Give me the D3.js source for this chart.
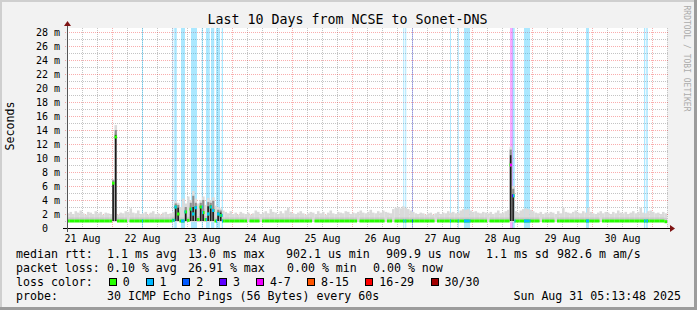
<!DOCTYPE html>
<html lang="en">
<head>
<meta charset="UTF-8">
<title>Last 10 Days from NCSE to Sonet-DNS</title>
<script src="https://cdn.jsdelivr.net/npm/d3@7"></script>
<style>
  html, body { margin: 0; padding: 0; background: #f2f2f2; overflow: hidden; }
  svg { display: block; }
  text { font-family: "DejaVu Sans Mono", monospace; }
</style>
</head>
<body>
<script>
// ---- data ----
// one value per hour, first hour = 20 Aug 18:00
const startTime = Date.UTC(2025, 7, 20, 18, 0, 0);
const yMax = 28.57; // ms, top of the plot

// median rtt in ms, null = no data
const median = [
  1.0,1.0,1.0,1.0,1.0,1.0, 1.0,1.0,1.0,1.0,1.0,1.0, 1.0,1.0,1.0,1.0,1.0,1.0, 6.4,13.0,1.0,1.0,1.0,1.0,
  null,1.0,1.0,1.0,1.0,1.0, 1.0,1.0,1.0,1.0,1.0,1.0, 1.0,1.0,1.0,1.0,1.0,1.0, 1.1,3.0,2.0,1.0,1.0,2.3,
  1.1,2.7,2.0,2.9,1.2,3.0, 2.2,1.2,2.0,3.0,2.5,1.0, 2.0,1.8,1.0,1.0,1.0,1.0, 1.0,1.0,1.0,1.0,1.0,1.0,
  null,1.0,1.0,1.0,1.0,null, 1.0,1.0,1.0,1.0,1.0,1.0, 1.0,1.0,1.0,1.0,1.0,1.0, 1.0,1.0,1.0,1.0,1.0,1.0,
  1.0,1.0,null,1.0,1.0,1.0, 1.0,1.0,1.0,1.0,1.0,1.0, 1.0,1.0,1.0,1.0,1.0,1.0, 1.0,1.0,null,1.0,1.0,1.0,
  1.0,1.0,1.0,1.0,1.0,1.0, 1.0,null,1.0,1.0,null,1.0, 1.0,1.0,1.0,1.0,1.0,1.0, 1.0,1.0,1.0,1.0,1.0,1.0,
  1.0,1.0,1.0,null,1.0,1.0, 1.0,1.0,1.0,1.0,1.0,1.0, 1.0,1.0,1.0,1.0,1.0,1.0, 1.0,1.0,1.0,1.0,1.0,1.0,
  null,1.0,1.0,1.0,1.0,1.0, 1.0,1.0,1.0,9.0,4.6,1.0, 1.0,1.0,1.0,1.0,1.0,1.0, 1.0,1.0,1.0,null,1.0,1.0,
  1.0,1.0,1.0,null,1.0,1.0, 1.0,1.0,1.0,1.0,1.0,1.0, 1.0,1.0,1.0,1.0,1.0,1.0, 1.0,1.0,1.0,null,1.0,1.0,
  1.0,1.0,1.0,1.0,1.0,1.0, 1.0,1.0,1.0,1.0,1.0,1.0, 1.0,1.0,1.0,1.0,1.0,1.0, 1.0,1.0,1.0,1.0,1.0,0.9
];

// top of the smoke (slowest pings) per hour, ms
const smokeHigh = [
  2.1,2.3,2.0,2.4,2.2,2.5, 2.1,1.9,2.3,2.2,2.0,2.4, 2.1,2.3,1.9,2.2,2.1,2.0, 7.0,14.7,1.9,2.2,2.1,2.4,
  2.3,2.8,2.2,2.1,2.5,2.0, 2.1,2.3,1.9,2.2,2.4,2.0, 2.1,1.9,2.2,2.3,2.0,2.1, 2.3,3.8,3.6,3.0,4.2,3.5,
  4.5,4.0,5.3,4.2,3.5,4.0, 4.5,3.3,4.3,4.0,4.4,3.2, 3.0,2.8,2.5,2.3,2.1,2.4, 2.0,2.2,1.9,2.3,2.1,2.0,
  2.2,1.9,2.1,2.5,2.3,2.0, 2.2,2.4,2.1,2.7,2.3,2.2, 2.0,2.4,2.1,2.5,2.9,2.3, 2.1,2.0,2.2,2.4,2.1,1.9,
  2.1,2.3,2.2,2.0,2.4,2.1, 2.3,1.9,2.2,2.5,2.1,2.0, 2.3,2.2,2.1,2.4,2.3,2.0, 2.2,2.1,2.3,2.5,2.2,2.1,
  2.3,2.6,2.2,2.1,2.4,2.2, 2.5,2.3,2.2,2.1,2.7,2.9, 3.0,2.8,3.1,2.9,2.7,2.5, 2.3,2.1,2.0,2.2,2.1,1.9,
  2.1,2.2,1.9,2.1,2.3,2.0, 2.2,2.1,2.4,2.2,2.3,2.1, 2.2,2.5,2.7,2.6,2.7,2.5, 2.3,2.4,2.2,2.1,2.3,2.2,
  2.1,2.3,2.0,2.2,2.5,2.1, 2.2,2.4,2.6,11.6,6.0,2.4, 2.2,2.5,2.7,2.8,2.7,2.6, 2.4,2.2,2.1,2.3,2.0,2.2,
  2.1,2.3,2.2,2.0,2.4,2.1, 2.9,2.3,2.2,2.1,2.3,2.5, 2.2,2.1,2.4,2.2,2.9,2.3, 2.1,2.0,2.2,2.4,2.1,2.3,
  2.2,2.0,2.3,2.1,2.5,2.2, 2.1,2.3,2.0,2.2,2.4,2.1, 2.3,2.9,2.2,2.1,2.4,2.5, 2.3,2.1,2.2,2.0,2.3,2.1
];
const smokeLow = 0.85;

// hours where the inner pings spread wide (dark smoke)
const darkHours = [18, 19, 43, 44, 47, 49, 50, 51, 53, 54, 56, 57, 58, 60, 61, 177, 178];
const darkLow   = [1.0,1.0,1.0,1.0,1.0,1.0,1.0,1.0,1.0,1.0,1.0,1.0,1.0,1.0,1.0,1.0,1.0];
const darkHigh  = [6.4,13.3,3.1,2.9,2.4,2.8,3.0,3.0,3.1,2.4,3.1,3.2,2.7,2.2,2.2,10.4,4.8];
const midHigh   = [6.8,14.0,3.5,3.3,3.0,3.6,4.6,3.6,3.6,4.0,3.7,3.6,3.9,2.6,2.5,11.2,5.6];

// packet loss periods: hours from start, level = index into lossLabels
const lossFrom  = [30.0,42.1,42.9,45.6,49.6,53.9,55.6,57.6,59.6,61.9,134.5,135.3,138.0,153.2,156.3,158.8,177.2,178.0,178.4,182.8,207.6,230.8,231.7];
const lossTo    = [30.4,42.5,43.9,47.2,52.0,54.4,57.1,58.9,61.2,62.4,134.9,135.7,138.4,153.6,156.7,161.2,178.0,178.4,179.1,185.2,208.8,231.3,232.3];
const lossLevel = [1,1,1,1,1,1,1,1,1,1,1,1,2,1,1,1,4,3,1,1,1,1,1];

const lossLabels = ["0", "1", "2", "3", "4-7", "8-15", "16-29", "30/30"];
const lossColors = ["#26ff00", "#00b8ff", "#0059ff", "#5e00ff", "#f000ff", "#ff5500", "#ff0000", "#a10000"];

const yTicks = [0, 2, 4, 6, 8, 10, 12, 14, 16, 18, 20, 22, 24, 26, 28];

const titleText = "Last 10 Days from NCSE to Sonet-DNS";
const rttStats  = ["1.1 ms avg", "13.0 ms max", "902.1 us min", "909.9 us now", "1.1 ms sd", "982.6 m am/s"];
const lossStats = ["0.10 % avg", "26.91 % max", "0.00 % min", "0.00 % now"];
const probeText = "30 ICMP Echo Pings (56 Bytes) every 60s";
const stampText = "Sun Aug 31 05:13:48 2025";

// ---- layout ----
const W = 697, H = 310;
const plotL = 67, plotR = 667, plotT = 28, plotB = 228;
const rttX  = [107, 188, 286, 386, 486, 557];
const lossX = [107, 188, 287, 373];
const font = "DejaVu Sans Mono";

const hourTime = h => new Date(startTime + h * 3600e3);
const x = d3.scaleUtc().domain([hourTime(0), hourTime(median.length)]).range([plotL, plotR]);
const y = d3.scaleLinear().domain([0, yMax]).range([plotB, plotT]);
const px = v => Math.round(v) + 0.5;

const svg = d3.select("body").append("svg")
    .attr("width", W)
    .attr("height", H);

// canvas + frame
svg.append("rect").attr("width", W).attr("height", H).attr("fill", "#f2f2f2");
svg.append("rect").attr("x", 0).attr("y", 0).attr("width", W).attr("height", 2).attr("fill", "#cfcfcf");
svg.append("rect").attr("x", 0).attr("y", 0).attr("width", 2).attr("height", H).attr("fill", "#cfcfcf");
svg.append("rect").attr("x", 0).attr("y", H - 3).attr("width", W).attr("height", 3).attr("fill", "#9c9c9c");
svg.append("rect").attr("x", W - 3).attr("y", 0).attr("width", 3).attr("height", H).attr("fill", "#9c9c9c");

svg.append("rect")
    .attr("x", plotL).attr("y", plotT)
    .attr("width", plotR - plotL).attr("height", plotB - plotT)
    .attr("fill", "#ffffff");

// grid
const grid = svg.append("g").attr("shape-rendering", "crispEdges").attr("stroke-width", 1).attr("stroke-dasharray", "1,1");
const sixHours = d3.utcHour.every(6).range(hourTime(0), hourTime(median.length + 1));
grid.selectAll(".vminor").data(sixHours.filter(d => d.getUTCHours() !== 12)).join("line")
    .attr("x1", d => px(x(d))).attr("x2", d => px(x(d)))
    .attr("y1", plotT).attr("y2", plotB + 2)
    .attr("stroke", "#c4c4c4");
grid.selectAll(".vmajor").data(sixHours.filter(d => d.getUTCHours() === 12)).join("line")
    .attr("x1", d => px(x(d))).attr("x2", d => px(x(d)))
    .attr("y1", plotT).attr("y2", plotB + 2)
    .attr("stroke", "rgba(235,0,0,0.32)");
grid.selectAll(".hminor").data(d3.range(1, 29, 2)).join("line")
    .attr("x1", plotL - 2).attr("x2", plotR + 2)
    .attr("y1", d => px(y(d))).attr("y2", d => px(y(d)))
    .attr("stroke", "#c4c4c4");
grid.selectAll(".hmajor").data(yTicks.filter(d => d > 0)).join("line")
    .attr("x1", plotL - 2).attr("x2", plotR + 2)
    .attr("y1", d => px(y(d))).attr("y2", d => px(y(d)))
    .attr("stroke", "rgba(235,0,0,0.32)");

// loss background bands
const lossIdx = d3.range(lossFrom.length);
svg.append("g").selectAll("rect").data(lossIdx).join("rect")
    .attr("x", i => x(hourTime(lossFrom[i])))
    .attr("width", i => Math.max(1, x(hourTime(lossTo[i])) - x(hourTime(lossFrom[i]))))
    .attr("y", plotT).attr("height", plotB - plotT)
    .attr("fill", i => lossColors[lossLevel[i]])
    .attr("fill-opacity", 0.33);

// smoke
const hrs = d3.range(median.length);
const colW = h => x(hourTime(h + 1)) - x(hourTime(h));
svg.append("g").selectAll("rect").data(hrs).join("rect")
    .attr("x", h => x(hourTime(h))).attr("width", h => colW(h) + 0.05)
    .attr("y", h => y(smokeHigh[h]))
    .attr("height", h => y(smokeLow) - y(smokeHigh[h]))
    .attr("fill", "#dadada");

// a little denser smoke just above the median
svg.append("g").selectAll("rect").data(hrs.filter(h => median[h] !== null)).join("rect")
    .attr("x", h => x(hourTime(h))).attr("width", h => colW(h) + 0.05)
    .attr("y", h => y(median[h]) - 3.5).attr("height", 2)
    .attr("fill", "#c9c9c9");

const darkIdx = d3.range(darkHours.length);
svg.append("g").selectAll("rect").data(darkIdx).join("rect")
    .attr("x", i => x(hourTime(darkHours[i])) + 0.2).attr("width", i => colW(darkHours[i]) - 0.4)
    .attr("y", i => y(midHigh[i]))
    .attr("height", i => y(darkLow[i]) - y(midHigh[i]))
    .attr("fill", "#8e8e8e");
svg.append("g").selectAll("rect").data(darkIdx).join("rect")
    .attr("x", i => x(hourTime(darkHours[i])) + 0.4).attr("width", i => colW(darkHours[i]) - 1.0)
    .attr("y", i => y(darkHigh[i]))
    .attr("height", i => y(darkLow[i]) - y(darkHigh[i]))
    .attr("fill", "#1a1a1a");

// median line, coloured by loss
svg.append("g").selectAll("rect").data(hrs.filter(h => median[h] !== null)).join("rect")
    .attr("x", h => x(hourTime(h))).attr("width", h => colW(h) + 0.05)
    .attr("y", h => y(median[h]) - 1.5).attr("height", 3)
    .attr("fill", lossColors[0]);

const lossSegs = [];
lossIdx.forEach(i => {
  for (let h = Math.floor(lossFrom[i]); h < lossTo[i]; h++) {
    if (median[h] === null) continue;
    lossSegs.push({ a: Math.max(lossFrom[i], h), b: Math.min(lossTo[i], h + 1), m: median[h], c: lossColors[lossLevel[i]] });
  }
});
svg.append("g").selectAll("rect").data(lossSegs).join("rect")
    .attr("x", d => x(hourTime(d.a)))
    .attr("width", d => Math.max(1, x(hourTime(d.b)) - x(hourTime(d.a))))
    .attr("y", d => y(d.m) - 1.5).attr("height", 3)
    .attr("fill", d => d.c);

// axes
svg.append("line").attr("x1", 63).attr("x2", 670).attr("y1", plotB + 0.5).attr("y2", plotB + 0.5)
    .attr("stroke", "#000").attr("shape-rendering", "crispEdges");
svg.append("path").attr("d", "M670,225L675,228.5L670,232Z").attr("fill", "#7f1414");
svg.append("line").attr("x1", plotL + 0.5).attr("x2", plotL + 0.5).attr("y1", plotB + 4).attr("y2", 25)
    .attr("stroke", "#555").attr("shape-rendering", "crispEdges");
svg.append("path").attr("d", "M64,26L67.5,21L71,26Z").attr("fill", "#7f1414");

const xAxis = svg.append("g")
    .attr("transform", `translate(0,${plotB})`)
    .call(d3.axisBottom(x)
      .tickValues(d3.utcDay.range(hourTime(0), hourTime(median.length)))
      .tickFormat(d3.utcFormat("%d %b"))
      .tickSize(0).tickPadding(7));
xAxis.select(".domain").remove();
xAxis.selectAll("text").attr("font-family", font).attr("font-size", 10).attr("fill", "#000");

const yAxis = svg.append("g")
    .attr("transform", `translate(${plotL},0)`)
    .call(d3.axisLeft(y)
      .tickValues(yTicks)
      .tickFormat(d => d === 0 ? "0\u00a0\u00a0" : d + "\u00a0m")
      .tickSize(0).tickPadding(7));
yAxis.select(".domain").remove();
yAxis.selectAll("text").attr("font-family", font).attr("font-size", 10).attr("fill", "#000");

// titles
svg.append("text").attr("x", 347.5).attr("y", 24).attr("text-anchor", "middle")
    .attr("font-size", 13.3).attr("fill", "#000").text(titleText);
svg.append("text").attr("transform", "translate(13.5,126) rotate(-90)").attr("text-anchor", "middle")
    .attr("font-size", 11.6).attr("fill", "#000").text("Seconds");
svg.append("text").attr("transform", "translate(684,58.5) rotate(90)").attr("text-anchor", "middle")
    .attr("font-size", 8).attr("fill", "#ababab").text("RRDTOOL / TOBI OETIKER");

// legend
const leg = svg.append("g").attr("font-size", 11.6).attr("fill", "#000").style("white-space", "pre");
leg.append("text").attr("x", 16).attr("y", 258).text("median rtt:");
leg.selectAll(".rtt").data(rttStats).join("text").attr("x", (d, i) => rttX[i]).attr("y", 258).text(d => d);
leg.append("text").attr("x", 16).attr("y", 272).text("packet loss:");
leg.selectAll(".loss").data(lossStats).join("text").attr("x", (d, i) => lossX[i]).attr("y", 272).text(d => d);
leg.append("text").attr("x", 16).attr("y", 286).text("loss color:");

let bx = 108.7;
lossLabels.forEach((lab, i) => {
  leg.append("rect").attr("x", Math.round(bx) + 0.5).attr("y", 278.5).attr("width", 7).attr("height", 7)
     .attr("fill", lossColors[i]).attr("stroke", "#000").attr("stroke-width", 1);
  leg.append("text").attr("x", bx + 14).attr("y", 286).text(lab);
  bx += 29.66 + 7.14 * lab.length;
});

leg.append("text").attr("x", 16).attr("y", 300).text("probe:");
leg.append("text").attr("x", 107).attr("y", 300).text(probeText);
leg.append("text").attr("x", 681).attr("y", 300).attr("text-anchor", "end").text(stampText);
</script>
</body>
</html>
